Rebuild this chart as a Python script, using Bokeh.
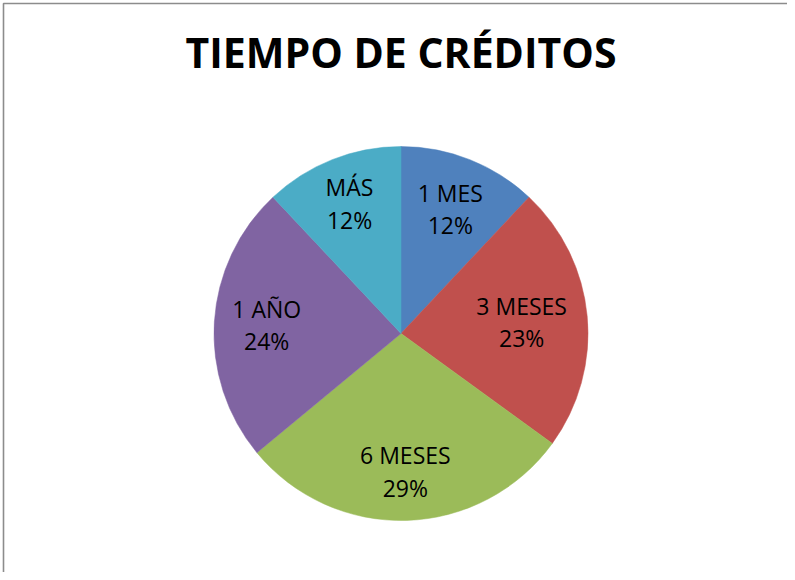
import math
from bokeh.plotting import figure
from bokeh.models import Range1d, ColumnDataSource
from bokeh.core.properties import value
from bokeh.embed import file_html
from bokeh.resources import INLINE

# ---- data ----
title_text = "TIEMPO DE CRÉDITOS"
categories = ["1 MES", "3 MESES", "6 MESES", "1 AÑO", "MÁS"]
percentages = [12, 23, 29, 24, 12]
colors = ["#4F81BD", "#C0504D", "#9BBB59", "#8064A2", "#4BACC6"]

# ---- layout ----
W, H = 787, 572
cx, cy, R = 400.5, H - 333.0, 187.0
label_font_px = 23
char_w = 13.0          # approx. advance per character of the label font
line_gap = 16.3        # half distance between the two label lines' cap centres
box_h = 49.0
outer_r = 170.0        # label box's outer corner sits on this radius


def label_center(mid, text_a, text_b):
    ux, uy = math.sin(mid), math.cos(mid)
    hw = max(len(text_a), len(text_b)) * char_w / 2
    hh = box_h / 2
    sx = 1 if ux >= 0 else -1
    sy = 1 if uy >= 0 else -1
    lo, hi = 0.0, R
    for _ in range(60):
        t = (lo + hi) / 2
        d = math.hypot(t * ux + sx * hw, t * uy + sy * hh)
        if d > outer_r:
            hi = t
        else:
            lo = t
    return cx + lo * ux, cy + lo * uy


total = float(sum(percentages))
starts, ends, lx, ly, pct_text = [], [], [], [], []
cum = 0.0
for cat, v in zip(categories, percentages):
    a0 = cum / total
    cum += v
    a1 = cum / total
    starts.append(math.pi / 2 - 2 * math.pi * a0)
    ends.append(math.pi / 2 - 2 * math.pi * a1)
    mid = 2 * math.pi * (a0 + a1) / 2
    pt = f"{v}%"
    x, y = label_center(mid, cat, pt)
    lx.append(x)
    ly.append(y)
    pct_text.append(pt)

src = ColumnDataSource(dict(
    cat=categories, pct=pct_text, start=starts, end=ends, color=colors,
    lx=lx, ly1=[y + line_gap for y in ly], ly2=[y - line_gap for y in ly],
))

p = figure(width=W, height=H, output_backend="svg", toolbar_location=None,
           x_range=Range1d(0, W), y_range=Range1d(0, H), min_border=0,
           outline_line_color=None)
p.xaxis.visible = False
p.yaxis.visible = False
p.grid.visible = False
p.background_fill_color = "white"
p.border_fill_color = "white"

# chart-area border (left and top edges visible)
p.line(x=[3, 3, W + 5], y=[-5, H - 3, H - 3], line_color="#8c8c8c", line_width=1.6)

p.wedge(x=cx, y=cy, radius=R, start_angle="start", end_angle="end",
        direction="clock", fill_color="color", line_color="color",
        line_width=0.5, source=src)

p.text(x="lx", y="ly1", text="cat", source=src, text_align="center",
       text_baseline="middle", text_font=value("Open Sans"),
       text_font_size=f"{label_font_px}px", text_color="black")
p.text(x="lx", y="ly2", text="pct", source=src, text_align="center",
       text_baseline="middle", text_font=value("Open Sans"),
       text_font_size=f"{label_font_px}px", text_color="black")

p.text(x=[cx], y=[H - 51], text=[title_text], text_align="center",
       text_baseline="middle", text_font=value("Open Sans"),
       text_font_style="bold", text_font_size="41px", text_color="black")

open("out.html", "w").write(file_html(p, INLINE))
